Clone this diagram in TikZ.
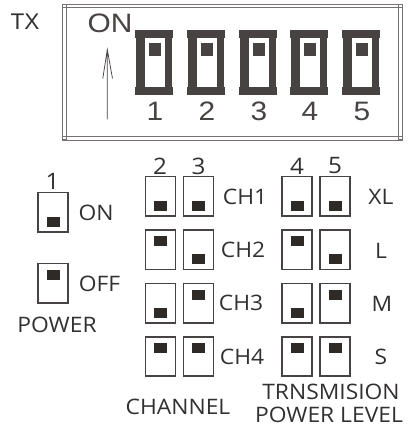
\documentclass[tikz,border=0pt]{standalone}
\usepackage{fontspec}
\setmainfont{Liberation Sans}
\newfontfamily\widefont[FakeStretch=1.12]{Liberation Sans}
\newfontfamily\lowfont[FakeStretch=1.07]{Open Sans}
\definecolor{dk}{HTML}{474342}
\definecolor{kn}{HTML}{2E2A28}
\definecolor{tx}{HTML}{333030}
\tikzset{
  x=0.75pt,y=-0.75pt,
  swbox/.style={draw=dk,line width=1.05pt,fill=white,minimum width=22.5pt,minimum height=29.5pt,inner sep=0pt,outer sep=0pt},
  knob/.style={fill=kn,minimum width=9.75pt,minimum height=7.5pt,inner sep=0pt,outer sep=0pt},
  biglabel/.style={text=dk,font=\widefont\fontsize{20}{21}\selectfont,inner sep=0pt},
  lowlabel/.style={text=tx,font=\lowfont\fontsize{16}{17}\selectfont,inner sep=0pt},
  digit/.style={text=tx,font=\lowfont\fontsize{17}{18}\selectfont,inner sep=0pt},
  piece/.style={fill=dk},
}
% name, left x, top y, 1 = knob up / 0 = knob down
\newcommand{\smallsw}[4]{%
  \node[swbox,anchor=north west] (#1) at (#2,#3) {};
  \ifnum#4=1
    \node[knob,anchor=north] (#1k) at ([yshift=-4.5pt]#1.north) {};
  \else
    \node[knob,anchor=south] (#1k) at ([yshift=3.75pt]#1.south) {};
  \fi}
% index, left x
\newcommand{\bigsw}[2]{%
  \fill[piece] (#2,30) rectangle +(38,8);
  \fill[piece] (#2,87.5) rectangle +(38,7.5);
  \fill[piece] (#2+1,30) rectangle +(36,65);
  \fill[white] (#2+9.5,38) rectangle +(20,49.5);
  \node[fill=dk,minimum width=9pt,minimum height=9.75pt,inner sep=0pt,anchor=north west] (bk#1) at (#2+14,42.7) {};
  \node[biglabel] (bn#1) at (#2+20,111) {#1};}
\begin{document}
\begin{tikzpicture}
\useasboundingbox (0,0) rectangle (410,427);
\fill[white] (0,0) rectangle (410,427);
% frame
\draw[draw=dk!75,line width=0.6pt] (62.5,4) rectangle (402,140);
\draw[draw=dk!75,line width=0.5pt] (66.5,7) rectangle (398.5,136);
\foreach \a/\b in {62.5/4,398.5/4,62.5/136,398.5/136}
  \draw[draw=dk!75,line width=0.5pt] (\a,\b) rectangle +(3.5,3.5);
\node[text=tx,font=\fontsize{17}{18}\selectfont,inner sep=0pt] (tx) at (25,21.5) {TX};
\node[biglabel] (on) at (110,23.5) {ON};
\coordinate (ab) at (107.3,119.5);
\coordinate (at) at (107.3,49.5);
\coordinate (al) at (102.8,78.5);
\coordinate (ar) at (112.5,78.5);
\draw[dk,line width=0.55pt] (ab) -- (at) (al) -- (at) -- (ar);
\bigsw{1}{135}
\bigsw{2}{187}
\bigsw{3}{239}
\bigsw{4}{290}
\bigsw{5}{342}
% power
\smallsw{pa}{38}{192.5}{0}
\smallsw{pb}{38}{263.5}{1}
\node[digit] (d1) at (52.5,181) {1};
\node[lowlabel] (lon) at (96,212.5) {ON};
\node[lowlabel] (loff) at (99.5,283.5) {OFF};
\node[lowlabel] (lpower) at (57,325) {POWER};
% channel
\smallsw{c21}{145.2}{176.8}{0}
\smallsw{c31}{183.5}{176.8}{0}
\smallsw{c22}{145.2}{230}{1}
\smallsw{c32}{183.5}{230}{0}
\smallsw{c23}{145.2}{283.5}{0}
\smallsw{c33}{183.5}{283.5}{1}
\smallsw{c24}{145.2}{336.8}{1}
\smallsw{c34}{183.5}{336.8}{1}
\node[digit] (d2) at (160,166) {2};
\node[digit] (d3) at (198.5,166) {3};
\node[lowlabel] (ch1) at (245,197) {CH1};
\node[lowlabel] (ch2) at (243,250) {CH2};
\node[lowlabel] (ch3) at (241,303) {CH3};
\node[lowlabel] (ch4) at (242,357) {CH4};
\node[lowlabel] (chan) at (178,406.5) {CHANNEL};
% power level
\smallsw{p41}{282}{176.8}{0}
\smallsw{p51}{320}{176.8}{0}
\smallsw{p42}{282}{230}{1}
\smallsw{p52}{320}{230}{0}
\smallsw{p43}{282}{283.5}{0}
\smallsw{p53}{320}{283.5}{1}
\smallsw{p44}{282}{336.8}{1}
\smallsw{p54}{320}{336.8}{1}
\node[digit] (d4) at (297,166) {4};
\node[digit] (d5) at (335,166) {5};
\node[lowlabel] (xl) at (381,197) {XL};
\node[lowlabel] (l) at (381,251) {L};
\node[lowlabel] (m) at (382,304) {M};
\node[lowlabel] (s) at (381,357) {S};
\node[lowlabel] (tr) at (331,392) {TRNSMISION};
\node[lowlabel] (pl) at (329,415) {POWER LEVEL};
\end{tikzpicture}
\end{document}
